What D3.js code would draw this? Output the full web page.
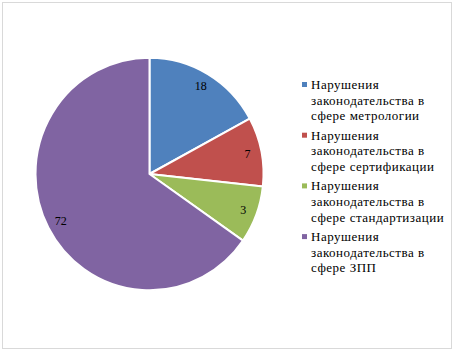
<!DOCTYPE html>
<html lang="ru">
<head>
<meta charset="utf-8">
<title>Нарушения законодательства</title>
<script src="https://cdn.jsdelivr.net/npm/d3@7"></script>
<style>
    body { margin: 0; background: #fff; }
    svg text { font-family: 'Liberation Serif', 'DejaVu Serif', serif; fill: #000; }
    .legend text { font-size: 13px; letter-spacing: 0.5px; }
    .lbl { font-size: 12px; }
</style>
</head>
<body>
<div id="chart"></div>
<script>
    // shares of the slices as drawn, and the numbers printed on them
    var categories = [
        ['Нарушения', 'законодательства в', 'сфере метрологии'],
        ['Нарушения', 'законодательства в', 'сфере сертификации'],
        ['Нарушения', 'законодательства в', 'сфере стандартизации'],
        ['Нарушения', 'законодательства в', 'сфере ЗПП']
    ];
    var values = [17.1, 9.6, 8.0, 65.3];
    var labels = ['18', '7', '3', '72'];
    var colors = ['#4F81BD', '#C0504D', '#9BBB59', '#8064A2'];

    var width = 454, height = 351;
    var cx = 149.5, cy = 174, r = 114;

    var svg = d3.select('#chart').append('svg')
        .attr('width', width)
        .attr('height', height);

    svg.append('rect')
        .attr('x', 2.5).attr('y', 2.5)
        .attr('width', 449).attr('height', 346)
        .attr('fill', '#fff')
        .attr('stroke', '#d9d9d9')
        .attr('stroke-width', 1);

    var pie = d3.pie().sort(null).value(function (d) { return d; });
    var arcs = pie(values);
    var arc = d3.arc().innerRadius(0).outerRadius(r);
    var labelArc = d3.arc().innerRadius(100).outerRadius(100);

    var g = svg.append('g')
        .attr('transform', 'translate(' + cx + ',' + cy + ') scale(1,1.02)');

    g.selectAll('path')
        .data(arcs)
        .enter()
        .append('path')
        .attr('d', arc)
        .attr('fill', function (d, i) { return colors[i]; })
        .attr('stroke', '#fff')
        .attr('stroke-width', 2)
        .attr('stroke-linejoin', 'round');

    svg.selectAll('.lbl')
        .data(arcs)
        .enter()
        .append('text')
        .attr('class', 'lbl')
        .attr('x', function (d) { return cx + labelArc.centroid(d)[0]; })
        .attr('y', function (d) { return cy + labelArc.centroid(d)[1] * 1.02; })
        .attr('text-anchor', 'middle')
        .attr('dominant-baseline', 'central')
        .text(function (d, i) { return labels[i]; });

    // legend
    var legend = svg.append('g').attr('class', 'legend');
    var item = legend.selectAll('g')
        .data(categories)
        .enter()
        .append('g')
        .attr('transform', function (d, i) { return 'translate(0,' + (89 + i * 50.7) + ')'; });

    item.append('rect')
        .attr('x', 302).attr('y', -7)
        .attr('width', 5).attr('height', 5)
        .attr('fill', function (d, i) { return colors[i]; });

    item.append('text')
        .attr('x', 311)
        .selectAll('tspan')
        .data(function (d) { return d; })
        .enter()
        .append('tspan')
        .attr('x', 311)
        .attr('y', function (d, j) { return j * 15.6; })
        .text(function (d) { return d; });
</script>
</body>
</html>
